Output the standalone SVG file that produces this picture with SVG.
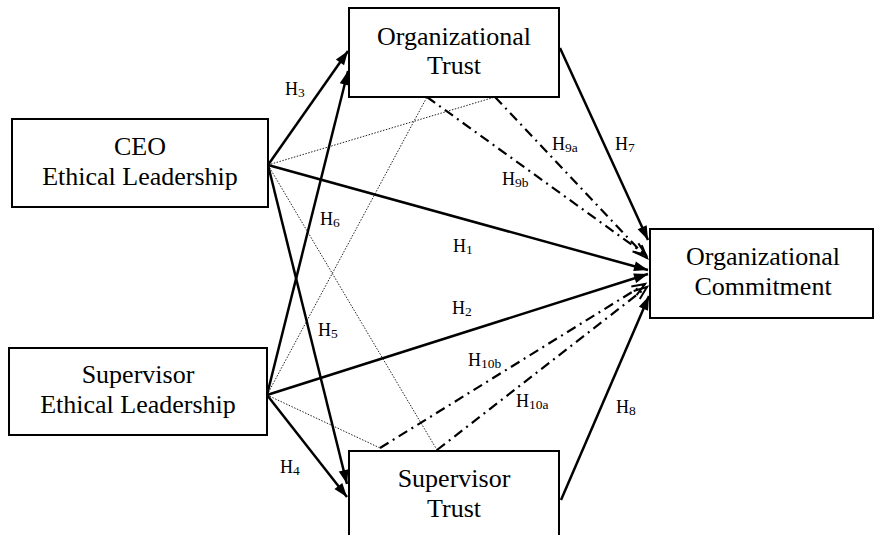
<svg xmlns="http://www.w3.org/2000/svg" width="874" height="535" viewBox="0 0 874 535">
<style>
.box{fill:#fff;stroke:#000;stroke-width:2}
.nt{font-family:"Liberation Serif","Times New Roman",serif;font-size:26px;fill:#000;text-anchor:middle}
.lb{font-family:"Liberation Serif","Times New Roman",serif;font-size:18px;fill:#000}
.sub{font-size:13.5px}
.solid{stroke:#000;stroke-width:2.5;fill:none;marker-end:url(#fa)}
.dd{stroke:#000;stroke-width:2.2;fill:none;stroke-dasharray:10 5 2 5;marker-end:url(#oa)}
.dot{stroke:#222;stroke-width:1;fill:none;stroke-dasharray:1.5 1.5}
</style>
<defs>
<marker id="fa" markerUnits="userSpaceOnUse" markerWidth="15" markerHeight="11" refX="14" refY="5" orient="auto" overflow="visible">
<path d="M0,0 L14,5 L0,10 Z" fill="#000"/>
</marker>
<marker id="oa" markerUnits="userSpaceOnUse" markerWidth="15" markerHeight="11" refX="13" refY="5" orient="auto" overflow="visible">
<path d="M0,0 L13,5 L0,10" fill="none" stroke="#000" stroke-width="2"/>
</marker>
</defs>
<rect width="874" height="535" fill="#fff"/>
<g id="connectors">
<line class="dot" x1="268" y1="165" x2="495" y2="97"/>
<line class="dot" x1="268" y1="165" x2="437" y2="450"/>
<line class="dot" x1="267" y1="395" x2="427" y2="97"/>
<line class="dot" x1="267" y1="395" x2="380" y2="448"/>
<line class="solid" x1="268" y1="165" x2="348" y2="51"/>
<line class="solid" x1="267" y1="395" x2="348" y2="71"/>
<line class="solid" x1="268" y1="165" x2="347" y2="484"/>
<line class="solid" x1="267" y1="395" x2="347" y2="497"/>
<line class="solid" x1="268" y1="165" x2="648" y2="270"/>
<line class="solid" x1="267" y1="395" x2="648" y2="274"/>
<line class="solid" x1="560" y1="48" x2="648" y2="240"/>
<line class="solid" x1="561" y1="500" x2="649" y2="296"/>
<line class="dd" x1="427" y1="97" x2="646" y2="255"/>
<line class="dd" x1="495" y1="97" x2="647" y2="258"/>
<line class="dd" x1="380" y1="448" x2="645" y2="284"/>
<line class="dd" x1="437" y1="450" x2="647" y2="287"/>
</g>
<g id="ceo">
<rect class="box" x="12" y="119" width="256" height="88"/>
<text class="nt" x="140" y="155">CEO</text>
<text class="nt" x="140" y="185">Ethical Leadership</text>
</g>
<g id="supervisor-el">
<rect class="box" x="9" y="348" width="258" height="87"/>
<text class="nt" x="138" y="383">Supervisor</text>
<text class="nt" x="138" y="413">Ethical Leadership</text>
</g>
<g id="org-trust">
<rect class="box" x="349" y="8" width="210" height="89"/>
<text class="nt" x="454" y="45">Organizational</text>
<text class="nt" x="454" y="74">Trust</text>
</g>
<g id="sup-trust">
<rect class="box" x="349" y="451" width="210" height="100"/>
<text class="nt" x="454" y="487">Supervisor</text>
<text class="nt" x="454" y="517">Trust</text>
</g>
<g id="org-commitment">
<rect class="box" x="650" y="229" width="223" height="89"/>
<text class="nt" x="763" y="265">Organizational</text>
<text class="nt" x="763" y="295">Commitment</text>
</g>
<g id="labels">
<text class="lb" x="285" y="95">H<tspan class="sub" dy="2">3</tspan></text>
<text class="lb" x="552" y="150">H<tspan class="sub" dy="2">9a</tspan></text>
<text class="lb" x="615" y="150">H<tspan class="sub" dy="2">7</tspan></text>
<text class="lb" x="502" y="185">H<tspan class="sub" dy="2">9b</tspan></text>
<text class="lb" x="320" y="225">H<tspan class="sub" dy="2">6</tspan></text>
<text class="lb" x="453" y="252">H<tspan class="sub" dy="2">1</tspan></text>
<text class="lb" x="452" y="314">H<tspan class="sub" dy="2">2</tspan></text>
<text class="lb" x="318" y="336">H<tspan class="sub" dy="2">5</tspan></text>
<text class="lb" x="468" y="366">H<tspan class="sub" dy="2">10b</tspan></text>
<text class="lb" x="516" y="407">H<tspan class="sub" dy="2">10a</tspan></text>
<text class="lb" x="616" y="413">H<tspan class="sub" dy="2">8</tspan></text>
<text class="lb" x="280" y="473">H<tspan class="sub" dy="2">4</tspan></text>
</g>
</svg>
